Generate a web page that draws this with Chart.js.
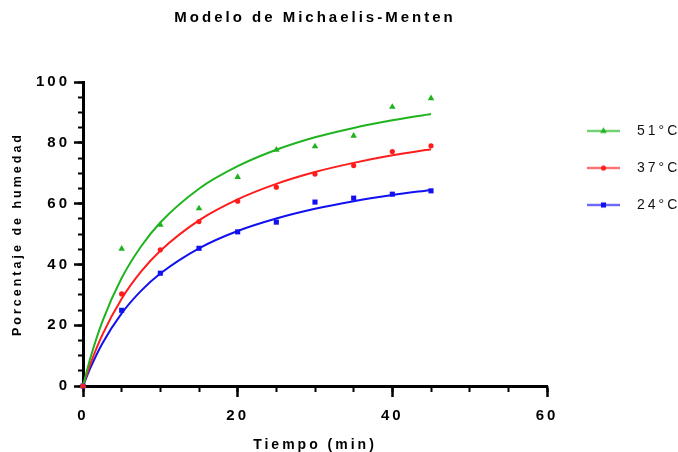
<!DOCTYPE html>
<html>
<head>
<meta charset="utf-8">
<title>Modelo de Michaelis-Menten</title>
<script src="https://cdn.jsdelivr.net/npm/chart.js@4/dist/chart.umd.min.js"></script>
<style>
  body { margin: 0; background: #fff; }
  canvas { display: block; }
</style>
</head>
<body>
<canvas id="chart" width="678" height="452"></canvas>
<script>
// Medidas de humedad (%) cada 5 minutos
const tiempo = [0, 5, 10, 15, 20, 25, 30, 35, 40, 45];
const humedad51 = [0, 45.1, 53.0, 58.4, 68.7, 77.7, 78.8, 82.3, 91.8, 94.6];
const humedad37 = [0, 30.3, 44.8, 54.1, 60.8, 65.4, 69.7, 72.5, 77.1, 79.0];
const humedad24 = [0, 24.9, 37.1, 45.3, 50.7, 53.9, 60.5, 61.8, 63.1, 64.2];

// Curvas de ajuste (Michaelis-Menten)
const tiempoAjuste = [0, 1, 2.5, 5, 7.5, 10, 15, 20, 25, 30, 35, 40, 45];
const ajuste51 = [0, 9.6, 21.2, 35.5, 45.9, 53.8, 64.9, 72.3, 77.7, 81.8, 84.9, 87.4, 89.5];
const ajuste37 = [0, 7.5, 16.8, 28.7, 37.6, 44.5, 54.5, 61.4, 66.5, 70.4, 73.4, 75.9, 77.9];
const ajuste24 = [0, 6.2, 14.0, 23.9, 31.3, 37.0, 45.3, 51.0, 55.1, 58.3, 60.8, 62.8, 64.5];

const temperaturas = ['51°C', '37°C', '24°C'];
const xTicks = [0, 20, 40, 60];
const yTicks = [0, 20, 40, 60, 80, 100];

const FUENTE = '"Liberation Sans", Arial, sans-serif';

const estilos = [
  { color: '#1fb41f', forma: 'triangle', radio: 3.8 },
  { color: '#ff1c1c', forma: 'circle', radio: 2.6 },
  { color: '#1010f0', forma: 'rect', radio: 3.6 }
];

const puntos = [humedad51, humedad37, humedad24];
const ajustes = [ajuste51, ajuste37, ajuste24];

const aPares = (xs, ys) => xs.map((x, i) => ({ x: x, y: ys[i] }));

// icono de leyenda: línea con el marcador en el centro (desplazado a la derecha)
function iconoLeyenda(est) {
  const c = document.createElement('canvas');
  c.width = 40;
  c.height = 9;
  const g = c.getContext('2d');
  g.strokeStyle = est.color;
  g.lineWidth = 1.5;
  g.beginPath();
  g.moveTo(7, 4.5);
  g.lineTo(40, 4.5);
  g.stroke();
  g.fillStyle = est.color;
  Chart.helpers.drawPoint(g, { pointStyle: est.forma, radius: est.radio, borderWidth: 0, rotation: 0 }, 23.5, 4.5);
  return c;
}

const datasets = [];
temperaturas.forEach((t, i) => {
  const est = estilos[i];
  datasets.push({
    label: t,
    data: aPares(tiempo, puntos[i]),
    showLine: false,
    pointStyle: est.forma,
    pointRadius: est.radio,
    pointBorderWidth: 0,
    backgroundColor: est.color,
    borderColor: est.color,
    clip: false,
    order: i === 1 ? -1 : i
  });
  datasets.push({
    label: t + ' ajuste',
    data: aPares(tiempoAjuste, ajustes[i]),
    showLine: true,
    cubicInterpolationMode: 'monotone',
    pointRadius: 0,
    borderWidth: 2,
    borderColor: est.color,
    clip: false,
    order: 3 + i
  });
});

// espaciado entre letras para todos los textos
const espaciado = {
  id: 'espaciado',
  beforeLayout(chart) { chart.ctx.letterSpacing = '3px'; },
  beforeDraw(chart) { chart.ctx.letterSpacing = '3px'; }
};

const fuenteEje = { family: FUENTE, size: 15, weight: 'bold' };

new Chart(document.getElementById('chart').getContext('2d'), {
  type: 'scatter',
  data: { datasets: datasets },
  plugins: [espaciado],
  options: {
    responsive: false,
    devicePixelRatio: 1,
    animation: false,
    events: [],
    layout: { padding: 0 },
    plugins: {
      tooltip: { enabled: false },
      title: {
        display: true,
        text: 'Modelo de Michaelis-Menten',
        fullSize: false,
        color: '#000',
        font: { family: FUENTE, size: 15, weight: 'bold', lineHeight: 1.2 },
        padding: { top: 9, bottom: 55 }
      },
      legend: {
        position: 'right',
        align: 'start',
        maxWidth: 131,
        title: { display: true, text: ' ', font: { size: 6, lineHeight: 1 }, padding: { top: 89, bottom: 6 } },
        labels: {
          usePointStyle: true,
          pointStyleWidth: 60,
          boxHeight: 14,
          padding: 23,
          color: '#111',
          font: { family: FUENTE, size: 14 },
          generateLabels: () => temperaturas.map((t, i) => ({
            text: t,
            fillStyle: estilos[i].color,
            strokeStyle: estilos[i].color,
            fontColor: '#111',
            lineWidth: 0,
            pointStyle: iconoLeyenda(estilos[i]),
            hidden: false,
            datasetIndex: i * 2
          }))
        }
      }
    },
    scales: {
      x: {
        type: 'linear',
        position: 'bottom',
        weight: 1,
        min: 0,
        max: 60,
        afterFit: s => { s.height = 66; },
        afterBuildTicks: s => { s.ticks = xTicks.map(v => ({ value: v })); },
        border: { display: true, color: '#000', width: 3 },
        grid: { display: true, drawOnChartArea: false, tickLength: 11, tickWidth: 2.5, tickColor: '#000' },
        ticks: { padding: 10, color: '#000', font: fuenteEje, maxRotation: 0 },
        title: {
          display: true,
          text: 'Tiempo (min)',
          color: '#000',
          font: { family: FUENTE, size: 14, weight: 'bold', lineHeight: 1 },
          padding: { top: 0, bottom: 0 }
        }
      },
      xMenor: {
        type: 'linear',
        position: 'bottom',
        weight: 0,
        min: 0,
        max: 60,
        afterFit: s => { s.height = 0; },
        border: { display: false },
        grid: { display: true, drawOnChartArea: false, tickLength: 6, tickWidth: 2, tickColor: '#000' },
        ticks: { display: false, stepSize: 5 }
      },
      y: {
        type: 'linear',
        position: 'left',
        weight: 1,
        min: 0,
        max: 100,
        afterFit: s => { s.width = 83; },
        afterBuildTicks: s => { s.ticks = yTicks.map(v => ({ value: v })); },
        border: { display: true, color: '#000', width: 3 },
        grid: { display: true, drawOnChartArea: false, tickLength: 9, tickWidth: 2.5, tickColor: '#000' },
        ticks: { padding: 4, color: '#000', font: fuenteEje },
        title: {
          display: true,
          text: 'Porcentaje de humedad',
          color: '#000',
          font: { family: FUENTE, size: 12.5, weight: 'bold', lineHeight: 1.2 },
          padding: { top: 10, bottom: 0 }
        }
      },
      yMenor: {
        type: 'linear',
        position: 'left',
        weight: 0,
        min: 0,
        max: 100,
        afterFit: s => { s.width = 0; },
        border: { display: false },
        grid: { display: true, drawOnChartArea: false, tickLength: 5, tickWidth: 2, tickColor: '#000' },
        ticks: { display: false, stepSize: 5 }
      }
    }
  }
});
</script>
</body>
</html>
